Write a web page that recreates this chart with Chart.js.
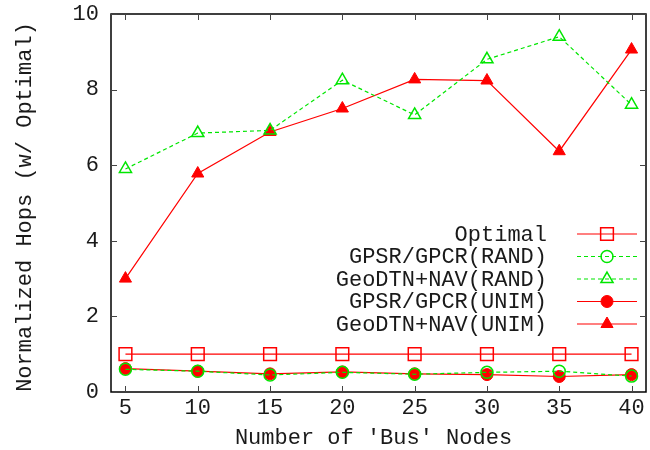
<!DOCTYPE html>
<html>
<head>
<meta charset="utf-8">
<script src="https://cdn.jsdelivr.net/npm/chart.js@4.4.0/dist/chart.umd.min.js"></script>
<style>
  html, body { margin: 0; padding: 0; background: #fff; }
  #wrap { width: 650px; height: 450px; }
</style>
</head>
<body>
<div id="wrap"><canvas id="hopsChart"></canvas></div>
<script>
const nodes = [5, 10, 15, 20, 25, 30, 35, 40];
const xTicks = [5, 10, 15, 20, 25, 30, 35, 40];
const yTicks = [0, 2, 4, 6, 8, 10];

const optimal = [1, 1, 1, 1, 1, 1, 1, 1];
const gpsrRand = [0.60, 0.55, 0.45, 0.52, 0.47, 0.52, 0.55, 0.42];
const geoRand = [5.90, 6.85, 6.92, 8.25, 7.33, 8.80, 9.40, 7.60];
const gpsrUnim = [0.62, 0.55, 0.48, 0.53, 0.48, 0.46, 0.41, 0.46];
const geoUnim = [3.00, 5.78, 6.88, 7.50, 8.27, 8.24, 6.37, 9.06];

const tituloX = "Number of 'Bus' Nodes";
const tituloY = 'Normalized Hops (w/ Optimal)';

const vermelho = '#ff0000';
const verde = '#00e600';
const corTexto = '#1a1a1a';
const fonte = "'Liberation Mono', 'DejaVu Sans Mono', monospace";
const tam = 22;

function pares(vals) {
  return nodes.map((n, i) => ({ x: n, y: vals[i] }));
}

// moldura com ticks para dentro (estilo gnuplot), rotulos do eixo x e titulos
const moldura = {
  id: 'moldura',
  afterDraw(chart) {
    const c = chart.ctx;
    const a = chart.chartArea;
    const sx = chart.scales.x, sy = chart.scales.y;
    const t = 6;
    c.save();
    c.strokeStyle = '#000';
    c.lineWidth = 1.5;
    c.strokeRect(a.left, a.top, a.right - a.left, a.bottom - a.top);
    c.lineWidth = 1;
    c.strokeStyle = '#444';
    c.beginPath();
    xTicks.forEach(v => {
      const px = Math.round(sx.getPixelForValue(v)) + 0.5;
      c.moveTo(px, a.bottom); c.lineTo(px, a.bottom - t);
      c.moveTo(px, a.top); c.lineTo(px, a.top + t);
    });
    yTicks.forEach(v => {
      const py = Math.round(sy.getPixelForValue(v)) + 0.5;
      c.moveTo(a.left, py); c.lineTo(a.left + t, py);
      c.moveTo(a.right, py); c.lineTo(a.right - t, py);
    });
    c.stroke();

    c.fillStyle = corTexto;
    c.font = tam + 'px ' + fonte;
    c.textAlign = 'center';
    c.textBaseline = 'middle';
    xTicks.forEach(v => {
      c.fillText(String(v), sx.getPixelForValue(v), a.bottom + 16);
    });
    c.fillText(tituloX, (a.left + a.right) / 2 - 5, 438);
    c.translate(25, (a.top + a.bottom) / 2 + 4);
    c.rotate(-Math.PI / 2);
    c.fillText(tituloY, 0, 0);
    c.restore();
  }
};

// legenda dentro do grafico, texto a direita alinhado
const legendaGnuplot = {
  id: 'legendaGnuplot',
  afterDraw(chart) {
    const c = chart.ctx;
    const a = chart.chartArea;
    c.save();
    c.font = tam + 'px ' + fonte;
    c.textAlign = 'right';
    c.textBaseline = 'middle';
    chart.data.datasets.forEach((ds, i) => {
      const y = a.top + 220 + i * 22.5;
      c.fillStyle = corTexto;
      c.fillText(ds.label, a.right - 99, y + 1);
      c.strokeStyle = ds.borderColor;
      c.lineWidth = ds.borderWidth;
      c.setLineDash(ds.borderDash || []);
      c.beginPath();
      c.moveTo(a.right - 69, y);
      c.lineTo(a.right - 9, y);
      c.stroke();
      c.setLineDash([]);
      c.fillStyle = ds.pointBackgroundColor;
      c.strokeStyle = ds.pointBorderColor;
      c.lineWidth = ds.pointBorderWidth;
      Chart.helpers.drawPoint(c, {
        pointStyle: ds.pointStyle,
        radius: ds.pointRadius,
        rotation: 0,
        borderWidth: ds.pointBorderWidth
      }, a.right - 39, y);
    });
    c.restore();
  }
};

new Chart(document.getElementById('hopsChart'), {
  type: 'line',
  data: {
    datasets: [
      {
        label: 'Optimal',
        data: pares(optimal),
        borderColor: vermelho, borderWidth: 1.2,
        pointStyle: 'rect', pointRadius: 9,
        pointBackgroundColor: 'rgba(0,0,0,0)', pointBorderColor: vermelho, pointBorderWidth: 1.5
      },
      {
        label: 'GPSR/GPCR(RAND)',
        data: pares(gpsrRand),
        borderColor: verde, borderWidth: 1.2, borderDash: [4, 3],
        pointStyle: 'circle', pointRadius: 6,
        pointBackgroundColor: 'rgba(0,0,0,0)', pointBorderColor: verde, pointBorderWidth: 1.5
      },
      {
        label: 'GeoDTN+NAV(RAND)',
        data: pares(geoRand),
        borderColor: verde, borderWidth: 1.2, borderDash: [4, 3],
        pointStyle: 'triangle', pointRadius: 7,
        pointBackgroundColor: 'rgba(0,0,0,0)', pointBorderColor: verde, pointBorderWidth: 1.5
      },
      {
        label: 'GPSR/GPCR(UNIM)',
        data: pares(gpsrUnim),
        borderColor: vermelho, borderWidth: 1.2,
        pointStyle: 'circle', pointRadius: 6,
        pointBackgroundColor: vermelho, pointBorderColor: vermelho, pointBorderWidth: 1
      },
      {
        label: 'GeoDTN+NAV(UNIM)',
        data: pares(geoUnim),
        borderColor: vermelho, borderWidth: 1.2,
        pointStyle: 'triangle', pointRadius: 7,
        pointBackgroundColor: vermelho, pointBorderColor: vermelho, pointBorderWidth: 1
      }
    ]
  },
  options: {
    responsive: true,
    maintainAspectRatio: false,
    animation: false,
    layout: { autoPadding: false, padding: { left: 0, right: 4, top: 14, bottom: 0 } },
    plugins: {
      legend: { display: false },
      tooltip: { enabled: false }
    },
    elements: { line: { tension: 0 } },
    scales: {
      x: {
        type: 'linear',
        min: 4, max: 41,
        afterBuildTicks: s => { s.ticks = xTicks.map(v => ({ value: v })); },
        afterFit: s => { s.height = 58; },
        grid: { display: false, drawTicks: false, tickLength: 0 },
        border: { display: false },
        ticks: { display: false }
      },
      y: {
        min: 0, max: 10,
        afterBuildTicks: s => { s.ticks = yTicks.map(v => ({ value: v })); },
        afterFit: s => { s.width = 111; s.paddingTop = 0; s.paddingBottom = 0; },
        grid: { display: false, drawTicks: false, tickLength: 0 },
        border: { display: false },
        ticks: { color: corTexto, font: { family: fonte, size: tam }, padding: 12 }
      }
    }
  },
  plugins: [moldura, legendaGnuplot]
});
</script>
</body>
</html>
